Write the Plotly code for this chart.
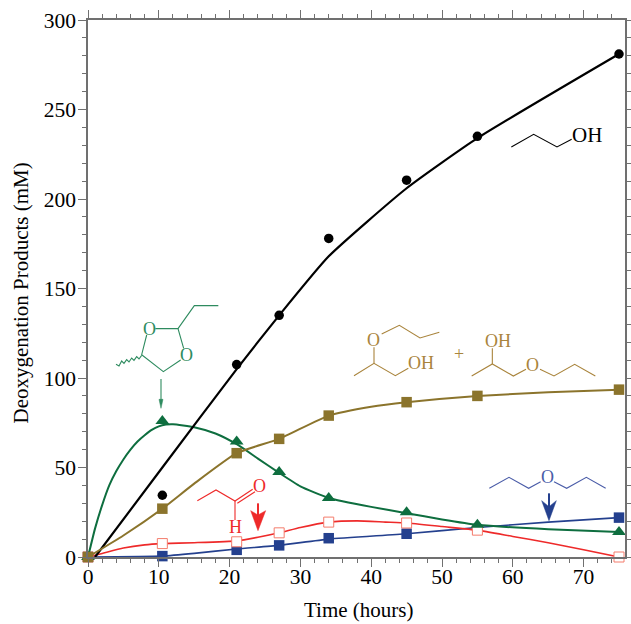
import plotly.graph_objects as go

# ---- measured data ----
time_h = [0, 10.5, 21, 27, 34, 45, 55, 75]
propanol = [0, 34.5, 107.5, 135, 178, 210.5, 235, 281]
ethers = [0, 27, 58, 66, 79, 86.5, 90, 93.5]
dioxolane = [0, 76, 64.5, 47.5, 33, 25, 18, 14]
propanal = [0, 7.5, 8.5, 13.5, 19.5, 19, 15, 0]
time_ether = [0, 10.5, 21, 27, 34, 45, 75]
dipropyl = [0, 0.5, 4, 6.5, 10.5, 13, 22]

# fitted curves
fit_propanol_x = [1, 10.5, 21, 27, 34, 45, 55, 75]
fit_propanol_y = [0, 50, 105, 135, 168, 206, 234, 281]
fit_ethers_x = [0, 5, 10.5, 15, 21, 27, 34, 40, 45, 55, 65, 75]
fit_ethers_y = [0, 12, 27, 41, 58, 66, 79, 84, 86.5, 90, 92, 93.5]
fit_diox_x = [0, 1, 2, 3, 4, 5, 6, 7, 8, 9, 10, 11, 12, 15, 18, 21, 24, 27, 30, 34, 40, 45, 50, 55, 65, 75]
fit_diox_y = [0, 16, 29, 40, 48, 54.5, 60, 64.5, 68, 71, 73, 74, 74.2, 72.5, 69, 63, 55, 47, 39.5, 33, 28, 24.5, 21, 18, 15.5, 14]
fit_al_x = [0, 2, 5, 8, 10.5, 15, 21, 24, 27, 30, 34, 38, 42, 45, 50, 55, 60, 65, 70, 75]
fit_al_y = [0, 2, 5, 6.8, 7.5, 8, 9, 11, 13.5, 16.5, 19.5, 20.2, 19.5, 19, 17, 15, 11.5, 8, 4, 0]
fit_eth_x = [0, 10.5, 15, 21, 27, 34, 45, 55, 65, 75]
fit_eth_y = [0, 0.5, 2, 4.5, 6.5, 10, 13, 16.5, 19.5, 22]

BLACK, BROWN, GREEN, RED, BLUE = "#000000", "#8B742C", "#0E6E3F", "#EE2A2A", "#24408E"
S_BROWN, S_GREEN, S_BLUE = "#A9843C", "#2E8B5F", "#4A5CA8"
W, H = 631, 624
L, R, T, B = 88, 625, 20, 557
FONT = "Liberation Serif"

fig = go.Figure()


def series(fx, fy, x, y, color, symbol, size, lw=2.0, fill=None, edge=None):
    fig.add_trace(go.Scatter(x=fx, y=fy, mode="lines", line=dict(color=color, width=lw, shape="spline", smoothing=0.5),
                             showlegend=False, hoverinfo="skip", cliponaxis=False))
    fig.add_trace(go.Scatter(x=x, y=y, mode="markers", showlegend=False, cliponaxis=False,
                             marker=dict(symbol=symbol, size=size, color=fill or color,
                                         line=dict(color=edge or color, width=1 if fill else 0))))


series(fit_eth_x, fit_eth_y, time_ether, dipropyl, BLUE, "square", 10.5, lw=1.6)
series(fit_al_x, fit_al_y, time_h, propanal, RED, "square", 10, lw=1.6, fill="#FFFFFF", edge="#F47C6C")
series(fit_diox_x, fit_diox_y, time_h, dioxolane, GREEN, "triangle-up", 12)
series(fit_propanol_x, fit_propanol_y, time_h, propanol, BLACK, "circle", 9.5, lw=2.2)
series(fit_ethers_x, fit_ethers_y, time_h, ethers, BROWN, "square", 10.5)

# ---- drawn chemical structures (page pixels -> paper fractions) ----
px = lambda x: (x - L) / (R - L)
py = lambda y: (B - y) / (B - T)
shapes = []


def bonds(pts, color, ox=0, oy=0, s=1 / 3, w=1.1):
    d = "M " + " L ".join(f"{px(ox + a * s):.5f} {py(oy + b * s):.5f}" for a, b in pts)
    shapes.append(dict(type="path", xref="paper", yref="paper", path=d, line=dict(color=color, width=w)))


def filled(pts, color, ox=0, oy=0, s=1 / 3):
    d = "M " + " L ".join(f"{px(ox + a * s):.5f} {py(oy + b * s):.5f}" for a, b in pts) + " Z"
    shapes.append(dict(type="path", xref="paper", yref="paper", path=d, fillcolor=color,
                       line=dict(color=color, width=0.5)))


notes = []


def label(text, x, y, color, size=18, angle=0):
    notes.append(dict(text=text, x=px(x), y=py(y), xref="paper", yref="paper", showarrow=False, textangle=angle,
                      xanchor="center", yanchor="middle", font=dict(family=FONT, size=size, color=color)))


# axis titles
label("Time (hours)", 358, 610, "#000000", size=21)
label("Deoxygenation Products (mM)", 21, 293.5, "#000000", size=21, angle=-90)

# dioxolane
o = (90, 280)
for seg in [[(170, 165), (155, 224), (220, 275), (272, 240)], [(281, 205), (264, 146), (196, 146)],
            [(264, 146), (313, 77), (385, 77)]]:
    bonds(seg, S_GREEN, *o)
bonds([(155, 226), (147, 237), (140, 230), (132, 241), (125, 234), (117, 246), (110, 239), (102, 250), (95, 243),
       (87, 258), (78, 253)], S_GREEN, *o)
bonds([(213, 297), (213, 370)], S_GREEN, *o)
filled([(207, 358), (213, 385), (219, 358)], S_GREEN, *o)
label("O", 90 + 177 / 3, 280 + 146 / 3, S_GREEN)
label("O", 90 + 288 / 3, 280 + 226 / 3, S_GREEN)

# glycerol ethers
o = (340, 310)
bonds([(42, 197), (102, 160), (166, 197), (205, 175)], S_BROWN, *o)
bonds([(102, 160), (102, 112)], S_BROWN, *o)
bonds([(125, 72), (178, 46), (240, 84), (298, 67)], S_BROWN, *o)
bonds([(395, 198), (457, 162), (520, 198), (558, 178)], S_BROWN, *o)
bonds([(457, 162), (457, 115)], S_BROWN, *o)
bonds([(600, 178), (642, 198), (704, 163), (766, 198)], S_BROWN, *o)
label("O", 340 + 101 / 3, 310 + 90 / 3, S_BROWN)
label("OH", 340 + 243 / 3, 310 + 160 / 3, S_BROWN)
label("OH", 340 + 473 / 3, 310 + 92 / 3, S_BROWN)
label("O", 340 + 578 / 3, 310 + 165 / 3, S_BROWN)
label("+", 340 + 356 / 3, 310 + 131 / 3, S_BROWN)

# dipropyl ether
o = (440, 460)
bonds([(148, 85), (207, 52), (266, 85), (302, 65)], S_BLUE, *o)
bonds([(342, 65), (380, 85), (439, 52), (497, 85)], S_BLUE, *o)
label("O", 440 + 321 / 3, 460 + 50 / 3, S_BLUE)
bonds([(327, 100), (327, 150)], BLUE, *o, w=2)
filled([(305, 122), (327, 182), (349, 122), (327, 140)], BLUE, *o)

# propanal
o = (180, 470)
bonds([(52, 92), (108, 60), (165, 93), (218, 58)], RED, *o)
bonds([(172, 100), (225, 65)], RED, *o)
bonds([(165, 93), (165, 150)], RED, *o)
label("O", 180 + 238 / 3, 470 + 48 / 3, RED)
label("H", 180 + 165 / 3, 470 + 172 / 3, RED)
bonds([(234, 100), (234, 150)], RED, *o, w=2)
filled([(212, 122), (234, 182), (257, 122), (234, 135)], RED, *o)

# propanol
o = (440, 0)
bonds([(214, 441), (281, 403), (351, 441), (395, 418)], "#000000", *o)
label("OH", 440 + 441 / 3, 405 / 3, "#000000", size=21)

AXIS = "#707070"


def axis(major, minor, rng, shift):
    return dict(range=rng, tickmode="linear", tick0=0, dtick=major, ticks="outside", ticklen=8, tickwidth=1,
                tickcolor=AXIS, showline=True, linecolor=AXIS, linewidth=1.5, mirror="allticks", showgrid=False,
                zeroline=False, automargin=False, ticklabelstandoff=shift,
                tickfont=dict(family=FONT, size=21.5, color="#000000"),
                minor=dict(dtick=minor, ticks="outside", ticklen=4, tickwidth=1, tickcolor=AXIS, showgrid=False))


fig.update_layout(
    width=W, height=H, autosize=False, paper_bgcolor="#FFFFFF", plot_bgcolor="#FFFFFF",
    margin=dict(l=L, r=W - R, t=T, b=H - B, pad=0), showlegend=False,
    xaxis=axis(10, 2, [0, (R - L) / 7.08], -9),
    yaxis=axis(50, 10, [0, 300], -2),
    shapes=shapes, annotations=notes,
)
fig.write_html("out.html", post_script="document.body.style.margin='0';", config=dict(displayModeBar=False))
